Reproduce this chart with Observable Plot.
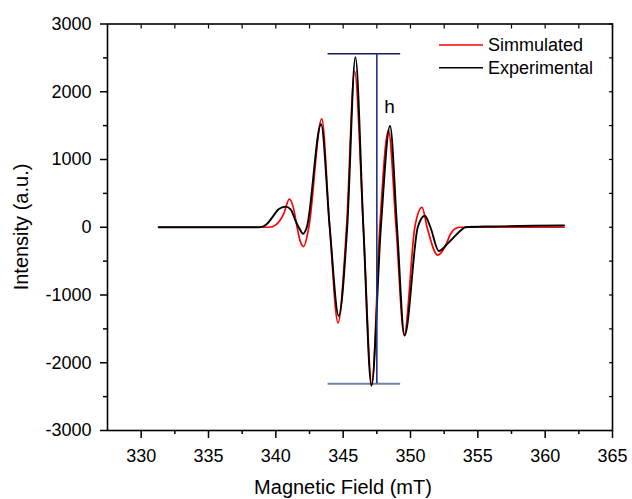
<!DOCTYPE html>
<html><head><meta charset="utf-8">
<script src="https://cdn.jsdelivr.net/npm/d3@7"></script>
<script src="https://cdn.jsdelivr.net/npm/@observablehq/plot@0.6"></script>
<style>
body{margin:0;background:#fff;font-family:"Liberation Sans",Arial,sans-serif;}
#chart{position:relative;width:632px;height:499px;}
</style></head><body><div id="chart"></div>
<script>
// Simulated spectrum (red)
const simX = [331.3, 339.5, 340.0, 340.59, 341.0, 341.3, 341.58, 341.8, 342.07, 342.45, 343.41, 344.0, 344.62, 345.25, 345.85, 346.5, 347.13, 347.72, 348.36, 348.93, 349.53, 350.32, 350.86, 351.23, 352.02, 352.6, 352.97, 353.34, 353.7, 361.4];
const simY = [0, 0, 35, 200, 415, 290, 0, -200, -285, 0, 1600, 0, -1410, 0, 2300, 0, -2320, 0, 1430, 0, -1590, 0, 292, 0, -410, -273, -100, -17, 0, 0];
// Experimental spectrum (black)
const expX = [331.3, 338.8, 339.3, 339.75, 340.2, 340.71, 341.1, 341.46, 341.7, 342.03, 342.3, 343.36, 344.0, 344.67, 345.3, 345.91, 346.5, 347.1, 347.8, 348.48, 349.0, 349.56, 350.54, 351.06, 351.48, 352.1, 352.72, 353.21, 353.7, 354.08, 356.0, 361.4];
const expY = [0, 0, 40, 150, 265, 305, 265, 96, 0, -95, 0, 1520, 0, -1310, 0, 2510, 0, -2340, 0, 1495, 0, -1600, 0, 170, 0, -350, -248, -150, -52, 0, 12, 25];
const seriesNames = ["Simmulated", "Experimental"];
const seriesColors = ["#ff0000", "#000000"];
// axes
const xTicks = [330, 335, 340, 345, 350, 355, 360, 365];
const xMinor = [332.5, 337.5, 342.5, 347.5, 352.5, 357.5, 362.5];
const yTicks = [-3000, -2000, -1000, 0, 1000, 2000, 3000];
const yMinor = [-2500, -1500, -500, 500, 1500, 2500];
// peak-to-peak "h" marker
const hX = [347.5];
const hTop = [2560];
const hBottom = [-2310];
const hSpan = [343.88, 349.27];
const hLabel = ["h"];
const hLabelPos = [348.45, 1690];

const sim = simX.map((x, i) => ({x, y: simY[i]}));
const exp = expX.map((x, i) => ({x, y: expY[i]}));
const fmt = d => String(d);
const blank = () => "";

const plot = Plot.plot({
  width: 632, height: 499,
  marginLeft: 107, marginRight: 20, marginTop: 23.5, marginBottom: 69,
  x: {domain: [327.5, 365]},
  y: {domain: [-3000, 3000]},
  style: {fontFamily: "'Liberation Sans', Arial, sans-serif", fontSize: "18px", color: "#000", background: "#fff", overflow: "visible"},
  marks: [
    Plot.axisX(xTicks, {tickSize: 8, tickPadding: 11, tickFormat: fmt, label: null, fontSize: 18, strokeWidth: 1.5}),
    Plot.axisX(xMinor, {tickSize: 4, tickFormat: blank, label: null, strokeWidth: 1.5}),
    Plot.axisX(xTicks.concat(xMinor), {anchor: "top", tickSize: -4, tickFormat: blank, label: null, strokeWidth: 1.2}),
    Plot.axisY(yTicks, {tickSize: 7, tickPadding: 9, tickFormat: fmt, label: null, fontSize: 18, strokeWidth: 1.5}),
    Plot.axisY(yMinor, {tickSize: 4, tickFormat: blank, label: null, strokeWidth: 1.5}),
    Plot.axisY(yTicks.concat(yMinor), {anchor: "right", tickSize: -4, tickFormat: blank, label: null, strokeWidth: 1.2}),
    Plot.frame({stroke: "#000", strokeWidth: 1.6}),
    Plot.ruleY(hTop, {x1: hSpan[0], x2: hSpan[1], stroke: "#13205c", strokeWidth: 1.5}),
    Plot.ruleY(hBottom, {x1: hSpan[0], x2: hSpan[1], stroke: "#7082a6", strokeWidth: 2}),
    Plot.line(sim, {x: "x", y: "y", stroke: seriesColors[0], strokeWidth: 1.7, curve: "monotone-x"}),
    Plot.line(exp, {x: "x", y: "y", stroke: seriesColors[1], strokeWidth: 1.9, curve: "monotone-x"}),
    Plot.ruleX(hX, {y1: hBottom[0], y2: hTop[0], stroke: "#1c3380", strokeWidth: 1.6}),
    Plot.text(hLabel, {x: hLabelPos[0], y: hLabelPos[1], text: d => d, fontSize: 19, textAnchor: "middle", lineAnchor: "bottom", fill: "#000"})
  ]
});
document.getElementById("chart").appendChild(plot);

const svg = d3.select(plot);
// axis titles
svg.append("text").attr("x", 343).attr("y", 494).attr("text-anchor", "middle")
  .attr("font-size", 20).attr("fill", "#000").text("Magnetic Field (mT)");
svg.append("text").attr("transform", "translate(28,227) rotate(-90)").attr("text-anchor", "middle")
  .attr("font-size", 20).attr("fill", "#000").text("Intensity (a.u.)");
// legend
const lg = svg.append("g").attr("text-anchor", "start");
seriesNames.forEach((name, i) => {
  const y = 45 + i * 22.7;
  lg.append("line").attr("x1", 439).attr("x2", 483).attr("y1", y).attr("y2", y)
    .attr("stroke", seriesColors[i]).attr("stroke-width", 1.6);
  lg.append("text").attr("x", 488).attr("y", y + 6.3).attr("text-anchor", "start")
    .attr("font-size", 18).attr("fill", "#000").text(name);
});
</script></body></html>
